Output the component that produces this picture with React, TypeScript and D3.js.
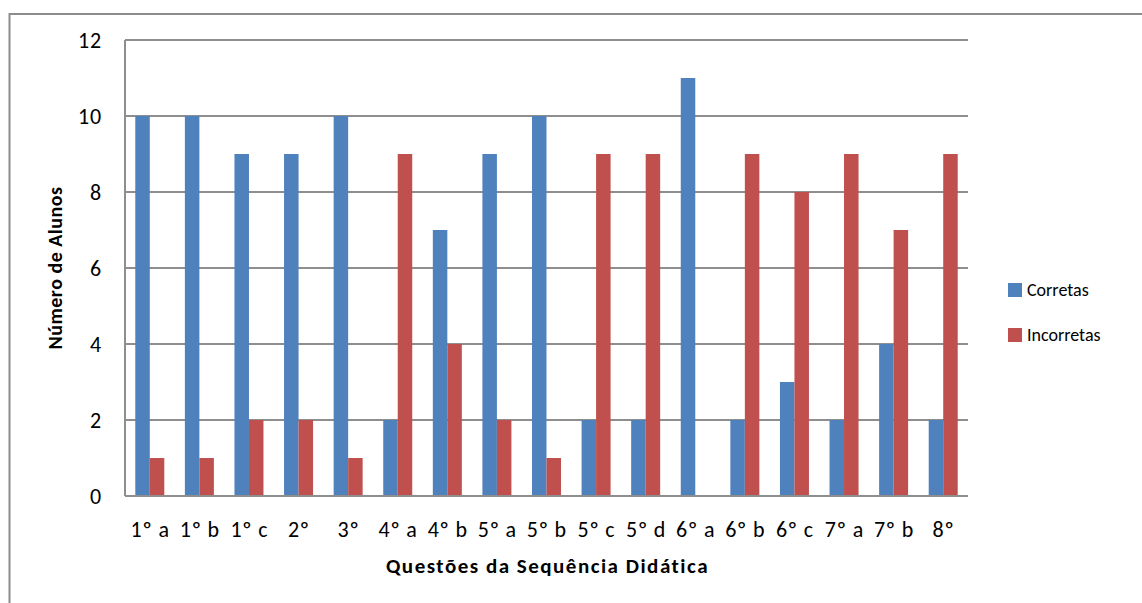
import React from "react";
import * as d3 from "d3";

const categories = ["1º a", "1º b", "1º c", "2º", "3º", "4º a", "4º b", "5º a", "5º b", "5º c", "5º d", "6º a", "6º b", "6º c", "7º a", "7º b", "8º"];
const corretas = [10, 10, 9, 9, 10, 2, 7, 9, 10, 2, 2, 11, 2, 3, 2, 4, 2];
const incorretas = [1, 1, 2, 2, 1, 9, 4, 2, 1, 9, 9, 0, 9, 8, 9, 7, 9];
const seriesNames = ["Corretas", "Incorretas"];
const colors = ["#4F81BD", "#C0504D"];
const yTicks = [0, 2, 4, 6, 8, 10, 12];

const W = 1142, H = 603;
const left = 125, right = 968, top = 40, bottom = 496;
const FONT = "Carlito, Calibri, Lato, sans-serif";

export default function App() {
  const x = d3.scaleBand<string>().domain(categories).range([left, right]).paddingInner(0).paddingOuter(0);
  const y = d3.scaleLinear().domain([0, 12]).range([bottom, top]);
  const inner = d3.scaleBand<string>().domain(seriesNames).range([0, 29]);
  const bw = inner.bandwidth();
  const data = [corretas, incorretas];
  return (
    <svg width={W} height={H} style={{ position: "absolute", left: 0, top: 0, background: "#fff" }} fontFamily={FONT}>
      <rect x={9.5} y={14} width={W + 10} height={H + 10} fill="none" stroke="#8c8c8c" strokeWidth={2} />
      {yTicks.map((t) => (
        <g key={t}>
          <line x1={left} x2={right} y1={y(t)} y2={y(t)} stroke="#8e8e8e" strokeWidth={2} />
          <text x={102} y={y(t)} dy="0.35em" textAnchor="end" fontSize={22} letterSpacing={0.8} fill="#000">{t}</text>
        </g>
      ))}
      <line x1={left} x2={left} y1={top} y2={bottom} stroke="#8e8e8e" strokeWidth={2} />
      {categories.map((c, i) => {
        const cx = (x(c) as number) + x.bandwidth() / 2;
        return (
          <g key={c}>
            {data.map((s, k) => (
              <rect key={k} x={cx - 14.5 + (inner(seriesNames[k]) as number)} y={y(s[i])} width={bw} height={y(0) - y(s[i])} fill={colors[k]} />
            ))}
            <text x={cx + 0.4} y={537} textAnchor="middle" fontSize={22} letterSpacing={0.8} fill="#000">{c}</text>
          </g>
        );
      })}
      <line x1={left} x2={right} y1={bottom} y2={bottom} stroke="#8e8e8e" strokeWidth={2} />
      <text x={(left + right) / 2 + 1} y={573} textAnchor="middle" fontSize={21} letterSpacing={1.5} fontWeight="bold" fill="#000">Questões da Sequência Didática</text>
      <text transform={`translate(62,${(top + bottom) / 2}) rotate(-90)`} textAnchor="middle" fontSize={20} letterSpacing={0.5} fontWeight="bold" fill="#000">Número de Alunos</text>
      {seriesNames.map((n, k) => (
        <g key={n} transform={`translate(1008,${283 + k * 45})`}>
          <rect x={0} y={0} width={14} height={14} fill={colors[k]} />
          <text x={19} y={7} dy="0.35em" fontSize={18} fill="#000">{n}</text>
        </g>
      ))}
    </svg>
  );
}
